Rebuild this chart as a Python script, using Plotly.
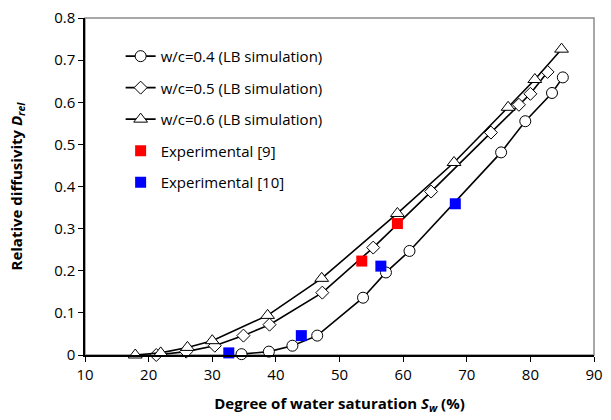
import plotly.graph_objects as go

# w/c = 0.4 (circles)
x_wc04 = [34.6, 38.9, 42.6, 46.5, 53.7, 57.3, 61.0, 75.4, 79.2, 83.4, 85.1]
y_wc04 = [0.002, 0.008, 0.022, 0.046, 0.136, 0.196, 0.247, 0.481, 0.555, 0.622, 0.659]
# w/c = 0.5 (diamonds)
x_wc05 = [21.2, 25.9, 30.4, 34.9, 39.0, 47.3, 55.3, 64.4, 73.8, 78.2, 80.0, 82.7]
y_wc05 = [0.0, 0.008, 0.022, 0.046, 0.072, 0.148, 0.255, 0.388, 0.528, 0.594, 0.620, 0.672]
# w/c = 0.6 (triangles)
x_wc06 = [17.9, 21.9, 26.1, 30.0, 38.7, 47.2, 59.1, 68.0, 76.5, 80.7, 84.9]
y_wc06 = [0.0, 0.005, 0.018, 0.034, 0.094, 0.182, 0.336, 0.457, 0.588, 0.654, 0.726]
# Experimental
x_exp9 = [53.5, 59.1]
y_exp9 = [0.223, 0.312]
x_exp10 = [32.6, 44.0, 56.5, 68.2]
y_exp10 = [0.005, 0.046, 0.211, 0.359]

x_ticks = [10, 20, 30, 40, 50, 60, 70, 80, 90]
y_ticks = [0, 0.1, 0.2, 0.3, 0.4, 0.5, 0.6, 0.7, 0.8]
y_ticklabels = ["0", "0.1", "0.2", "0.3", "0.4", "0.5", "0.6", "0.7", "0.8"]

FONT = "Open Sans"

fig = go.Figure()
line_style = dict(color="black", width=1.6)
fig.add_trace(go.Scatter(x=x_wc04, y=y_wc04, mode="lines+markers", name="w/c=0.4 (LB simulation)",
                         line=line_style, legendgroup="a",
                         marker=dict(symbol="circle", size=11, color="white", line=dict(color="black", width=1)),
                         cliponaxis=False))
fig.add_trace(go.Scatter(x=x_wc05, y=y_wc05, mode="lines+markers", name="w/c=0.5 (LB simulation)",
                         line=line_style, legendgroup="b",
                         marker=dict(symbol="diamond", size=10, color="white", line=dict(color="black", width=1)),
                         cliponaxis=False))
fig.add_trace(go.Scatter(x=x_wc06, y=y_wc06, mode="lines+markers", name="w/c=0.6 (LB simulation)",
                         line=line_style, legendgroup="c",
                         marker=dict(symbol="triangle-up", size=12, color="white", line=dict(color="black", width=1)),
                         cliponaxis=False))
fig.add_trace(go.Scatter(x=x_exp9, y=y_exp9, mode="markers", name="Experimental [9]", legendgroup="d",
                         marker=dict(symbol="square", size=11, color="#FF0000"), cliponaxis=False))
fig.add_trace(go.Scatter(x=x_exp10, y=y_exp10, mode="markers", name="Experimental [10]", legendgroup="e",
                         marker=dict(symbol="square", size=11, color="#0000FF"), cliponaxis=False))

fig.add_shape(type="rect", xref="paper", yref="paper", x0=0, y0=0, x1=1, y1=1,
              line=dict(color="#8c8c8c", width=1.5), layer="below")

fig.update_layout(
    width=611, height=420,
    margin=dict(l=85, r=17, t=18, b=65),
    paper_bgcolor="white", plot_bgcolor="white",
    font=dict(family=FONT, size=15, color="black"),
    showlegend=True,
    legend=dict(x=0.07, y=0.935, xanchor="left", yanchor="top", bgcolor="rgba(0,0,0,0)",
                font=dict(family=FONT, size=15), tracegroupgap=9, itemwidth=30),
    xaxis=dict(range=[10, 90], tickvals=x_ticks, showgrid=False, zeroline=False, automargin=False,
               showline=True, linecolor="black", linewidth=1.5, ticks="outside", ticklen=5,
               tickcolor="black", tickfont=dict(size=15),
               title=dict(text="<b>Degree of water saturation <i>S</i><sub><i>w</i></sub> (%)</b>",
                          font=dict(size=15), standoff=16)),
    yaxis=dict(range=[0, 0.8], tickvals=y_ticks, ticktext=y_ticklabels, showgrid=False, zeroline=False,
               automargin=False,
               showline=True, linecolor="black", linewidth=1.5, ticks="outside", ticklen=5,
               tickcolor="black", tickfont=dict(size=15),
               title=dict(text="<b>Relative diffusivity <i>D</i><sub><i>rel</i></sub></b>",
                          font=dict(size=15), standoff=28)),
)

fig.write_html("out.html")
